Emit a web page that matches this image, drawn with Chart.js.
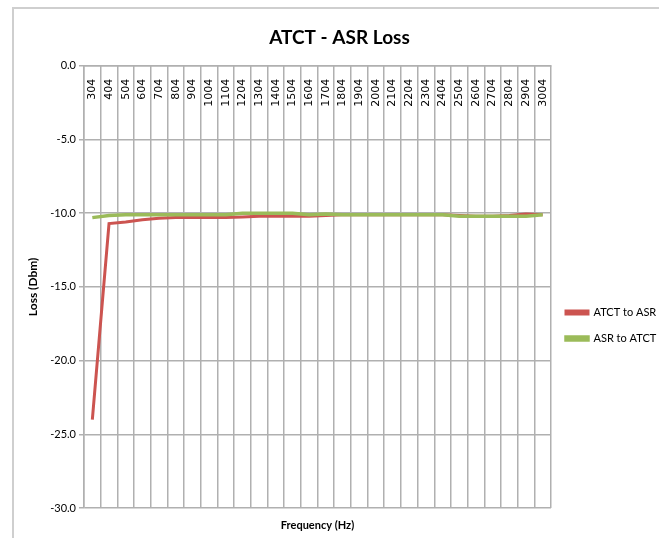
<!DOCTYPE html>
<html><head><meta charset="utf-8">
<script src="https://cdn.jsdelivr.net/npm/chart.js@4"></script>
<style>
html,body{margin:0;padding:0;background:#fff;}
#wrap{position:relative;width:659px;height:538px;overflow:hidden;}
#frame{position:absolute;left:12px;top:7px;width:700px;height:600px;border-left:2px solid #cfcfcf;border-top:2px solid #cfcfcf;}
canvas{position:absolute;left:0;top:0;}
</style></head><body>
<div id="wrap"><div id="frame"></div><canvas id="c" width="659" height="538"></canvas></div>
<script>
const categories = ['304','404','504','604','704','804','904','1004','1104','1204','1304','1404','1504','1604','1704','1804','1904','2004','2104','2204','2304','2404','2504','2604','2704','2804','2904','3004'];
const atctToAsr = [-24.0,-10.7,-10.6,-10.45,-10.35,-10.3,-10.3,-10.3,-10.3,-10.25,-10.2,-10.2,-10.2,-10.2,-10.15,-10.1,-10.1,-10.1,-10.1,-10.1,-10.1,-10.1,-10.15,-10.2,-10.2,-10.15,-10.05,-10.1];
const asrToAtct = [-10.3,-10.15,-10.1,-10.1,-10.1,-10.1,-10.1,-10.1,-10.1,-10.0,-10.0,-10.0,-10.0,-10.1,-10.05,-10.1,-10.1,-10.1,-10.1,-10.1,-10.1,-10.1,-10.2,-10.2,-10.2,-10.2,-10.2,-10.1];
const yMin = -30, yMax = 0, yStep = 5;

const gridColor = '#b0b0b0';
new Chart(document.getElementById('c'), {
  type: 'line',
  data: {
    labels: categories,
    datasets: [
      {label: 'ATCT to ASR', data: atctToAsr, borderColor: '#cc5450', backgroundColor: '#cc5450', borderWidth: 3, pointRadius: 0, tension: 0, order: 1},
      {label: 'ASR to ATCT', data: asrToAtct, borderColor: '#9bbb59', backgroundColor: '#9bbb59', borderWidth: 3.5, pointRadius: 0, tension: 0, order: 0}
    ]
  },
  options: {
    responsive: false,
    animation: false,
    layout: {padding: {left: 20, right: 0, top: 0, bottom: 6}},
    plugins: {
      title: {display: true, text: 'ATCT - ASR Loss', color: '#000', font: {family: 'Lato', size: 19, weight: 'bold'}, padding: {top: 26, bottom: 17}},
      legend: {
        position: 'right', fullSize: false, maxWidth: 108, align: 'center',
        title: {display: true, text: '', padding: {top: 64, bottom: 0}, font: {size: 11}},
        labels: {boxWidth: 22, boxHeight: 3, padding: 15, color: '#000', font: {family: 'Lato', size: 11},
          sort: (a, b) => a.datasetIndex - b.datasetIndex}
      },
      tooltip: {enabled: false}
    },
    scales: {
      x: {
        type: 'category', position: {y: 0}, offset: true,
        grid: {offset: true, color: gridColor, lineWidth: 1.5, drawTicks: false},
        border: {color: gridColor, width: 1.5},
        ticks: {autoSkip: false, minRotation: 90, maxRotation: 90, padding: 13, color: '#000', font: {family: 'DejaVu Sans', size: 11}}
      },
      x2: {
        type: 'category', position: 'bottom', offset: true,
        grid: {display: false, drawTicks: false}, border: {display: false}, ticks: {display: false},
        title: {display: true, text: 'Frequency (Hz)', color: '#000', font: {family: 'Lato', size: 11, weight: 'bold'}, padding: {top: 5, bottom: 0}},
        afterFit: s => { s.height = 24; }
      },
      y: {
        min: yMin, max: yMax,
        ticks: {stepSize: yStep, callback: v => Number(v).toFixed(1), padding: 3, color: '#000', font: {family: 'Lato', size: 11}},
        grid: {color: gridColor, lineWidth: 1.5, tickLength: 5},
        border: {color: gridColor, width: 1.5},
        title: {display: true, text: 'Loss (Dbm)', color: '#000', font: {family: 'Lato', size: 12, weight: 'bold'}, padding: {top: 6, bottom: 0}},
        afterFit: s => { s.width = 64; }
      }
    }
  }
});
</script>
</body></html>
